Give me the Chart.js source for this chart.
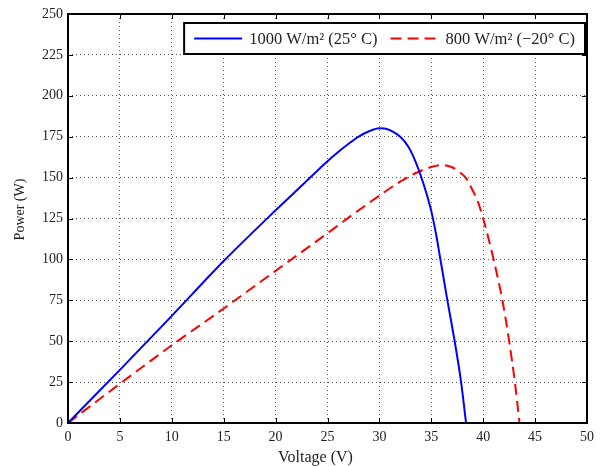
<!DOCTYPE html>
<html>
<head>
<meta charset="utf-8">
<title>PV power curves</title>
<script src="https://cdn.jsdelivr.net/npm/chart.js@4.4.1/dist/chart.umd.min.js"></script>
<style>
  html, body { margin: 0; padding: 0; background: #fff; }
  #wrap { width: 600px; height: 466px; }
</style>
</head>
<body>
<div id="wrap"><canvas id="pv"></canvas></div>
<script>
// 1000 W/m2 at 25 C
const voltsStc = [0, 5, 10, 15, 20, 22.5, 25, 26, 27, 28, 29, 30, 30.5, 31, 31.5, 32, 32.5, 33, 33.5, 34, 34.5, 35, 35.5, 35.85, 36.55, 37.25, 37.87, 38.35];
const powerStc = [0, 32.5, 65.5, 99, 130, 145, 160, 165.5, 170.5, 175, 178.3, 180.1, 180, 179, 177.3, 175, 171.5, 166.5, 159.5, 151, 141, 129.5, 114, 101, 75, 50, 25, 0];

// 800 W/m2 at -20 C
const voltsCold = [0, 5, 10, 15, 20, 25, 26.7, 30, 32, 33.4, 35, 36, 37, 37.7, 38.3, 39, 39.5, 40, 41, 41.85, 42.5, 43.05, 43.5];
const powerCold = [0, 24, 47.5, 70, 93, 116, 124, 139, 147.5, 152.5, 156.5, 157.7, 156.3, 153.5, 150, 142, 135, 125, 100, 75, 50, 25, 0];

const seriesLabels = ['1000 W/m\u00b2 (25\u00b0 C)', '800 W/m\u00b2 (\u221220\u00b0 C)'];
const xTitle = 'Voltage (V)';
const yTitle = 'Power (W)';

const xTicks = [0, 5, 10, 15, 20, 25, 30, 35, 40, 45, 50];
const yTicks = [0, 25, 50, 75, 100, 125, 150, 175, 200, 225, 250];

const serif = '"Liberation Serif", "DejaVu Serif", serif';
const ink = '#222';

function toPoints(xs, ys) {
  return xs.map((x, i) => ({ x: x, y: ys[i] }));
}

// box around the plot, inward tick marks, axis titles and a boxed legend
const framePlugin = {
  id: 'frame',
  afterDraw(chart) {
    const ctx = chart.ctx;
    const a = chart.chartArea;
    const sx = chart.scales.x, sy = chart.scales.y;
    ctx.save();

    ctx.strokeStyle = '#000';
    ctx.lineWidth = 1;
    ctx.beginPath();
    xTicks.forEach(v => {
      const px = Math.round(sx.getPixelForValue(v)) + 0.5;
      ctx.moveTo(px, a.bottom); ctx.lineTo(px, a.bottom - 5);
      ctx.moveTo(px, a.top); ctx.lineTo(px, a.top + 5);
    });
    yTicks.forEach(v => {
      const py = Math.round(sy.getPixelForValue(v)) + 0.5;
      ctx.moveTo(a.left, py); ctx.lineTo(a.left + 5, py);
      ctx.moveTo(a.right, py); ctx.lineTo(a.right - 5, py);
    });
    ctx.stroke();

    ctx.lineWidth = 2;
    ctx.strokeRect(a.left, a.top, a.right - a.left, a.bottom - a.top);

    // axis titles sit a little left / above the middle of the axes
    ctx.fillStyle = ink;
    ctx.textAlign = 'center';
    ctx.textBaseline = 'middle';
    ctx.font = '16px ' + serif;
    ctx.fillText(xTitle, (a.left + a.right) / 2 - 12, a.bottom + 35);
    ctx.font = '14px ' + serif;
    ctx.translate(20, (a.top + a.bottom) / 2 - 9);
    ctx.rotate(-Math.PI / 2);
    ctx.fillText(yTitle, 0, 0);
    ctx.setTransform(1, 0, 0, 1, 0, 0);

    // legend
    ctx.textAlign = 'left';
    ctx.font = '16.5px ' + serif;
    const sample = 48, gapIn = 7, gapOut = 13, padX = 10;
    const w0 = ctx.measureText(seriesLabels[0]).width;
    const w1 = ctx.measureText(seriesLabels[1]).width;
    const boxW = padX + sample + gapIn + w0 + gapOut + sample + gapIn + w1 + padX;
    const boxH = 31;
    const bx = a.right - 2 - boxW;
    const by = a.top + 9;
    ctx.fillStyle = '#fff';
    ctx.fillRect(bx, by, boxW, boxH);
    ctx.lineWidth = 2;
    ctx.strokeStyle = '#000';
    ctx.strokeRect(bx, by, boxW, boxH);

    const cy = by + boxH / 2;
    let x = bx + padX;
    chart.data.datasets.forEach((ds, i) => {
      ctx.strokeStyle = ds.borderColor;
      ctx.lineWidth = ds.borderWidth;
      ctx.setLineDash(ds.borderDash || []);
      ctx.beginPath();
      ctx.moveTo(x, cy); ctx.lineTo(x + sample, cy);
      ctx.stroke();
      ctx.setLineDash([]);
      x += sample + gapIn;
      ctx.fillStyle = ink;
      ctx.fillText(ds.label, x, cy + 1);
      x += (i === 0 ? w0 : w1) + gapOut;
    });
    ctx.restore();
  }
};

new Chart(document.getElementById('pv'), {
  type: 'line',
  data: {
    datasets: [
      {
        label: seriesLabels[0],
        data: toPoints(voltsStc, powerStc),
        borderColor: '#0000ff',
        borderWidth: 2,
        pointRadius: 0,
        cubicInterpolationMode: 'monotone'
      },
      {
        label: seriesLabels[1],
        data: toPoints(voltsCold, powerCold),
        borderColor: '#ff0000',
        borderWidth: 2,
        borderDash: [11, 6],
        pointRadius: 0,
        cubicInterpolationMode: 'monotone'
      }
    ]
  },
  options: {
    responsive: true,
    maintainAspectRatio: false,
    animation: false,
    layout: { padding: { top: 14, right: 11, left: 0, bottom: 0 } },
    plugins: {
      legend: { display: false },
      tooltip: { enabled: false }
    },
    scales: {
      x: {
        type: 'linear',
        min: 0,
        max: 50,
        afterBuildTicks: s => { s.ticks = xTicks.map(v => ({ value: v })); },
        afterFit: s => { s.height = 43; },
        grid: { color: '#555', lineWidth: 1, drawTicks: false },
        border: { display: false, dash: [1, 3] },
        ticks: { color: ink, padding: 6, font: { family: serif, size: 14 }, maxRotation: 0 }
      },
      y: {
        type: 'linear',
        min: 0,
        max: 250,
        afterBuildTicks: s => { s.ticks = yTicks.map(v => ({ value: v })); },
        afterFit: s => { s.width = 68; },
        grid: { color: '#555', lineWidth: 1, drawTicks: false },
        border: { display: false, dash: [1, 3] },
        ticks: { color: ink, padding: 5, font: { family: serif, size: 14 } }
      }
    }
  },
  plugins: [framePlugin]
});
</script>
</body>
</html>
